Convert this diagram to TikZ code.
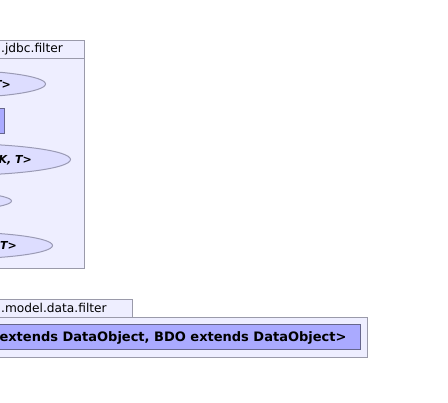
\documentclass[tikz,border=0pt]{standalone}
\usepackage{fontspec}
\setmainfont{DejaVu Sans}
\usetikzlibrary{shapes.geometric}

\definecolor{pkgfill}{HTML}{EEEEFF}
\definecolor{pkgline}{HTML}{9A9AAA}
\definecolor{tplfill}{HTML}{DDDDFF}
\definecolor{tplline}{HTML}{9A9AB4}
\definecolor{clsfill}{HTML}{AAAAFF}
\definecolor{clsline}{HTML}{66668C}

\begin{document}
\begin{tikzpicture}[x=1pt,y=-1pt]
        \tikzstyle{package}=[draw=pkgline, fill=pkgfill, line width=1pt]
        \tikzstyle{template}=[ellipse, draw=tplline, fill=tplfill, line width=1pt, inner sep=0pt]
        \tikzstyle{klass}=[rectangle, draw=clsline, fill=clsfill, line width=1pt, inner sep=0pt]
        \tikzstyle{pkglabel}=[anchor=west, inner sep=0pt, font=\fontsize{12.2}{14}\selectfont]
        \tikzstyle{tpllabel}=[anchor=east, inner sep=0pt, font=\fontsize{11}{13}\selectfont\bfseries\itshape]

        \useasboundingbox (0,0) rectangle (448,403);
        \clip (0,0) rectangle (448,403);

        % upper package
        \node[package, draw, rectangle, anchor=north east, minimum width=120pt, minimum height=18pt] (jdbcTab) at (85,40) {};
        \node[package, draw, rectangle, anchor=north east, minimum width=120pt, minimum height=210pt] (jdbcBody) at (85,58) {};
        \node[pkglabel] (jdbcName) at (1,49) {.jdbc.filter};

        % templates in the upper package
        \foreach \name / \x / \y / \w / \h in {tplA/46/84/200/28, tplC/71/159.5/240/32, tplD/12/201/200/22, tplE/53/245.5/200/27}
            \node[template, minimum width=\w pt, minimum height=\h pt, anchor=east] (\name) at (\x,\y) {};

        \node[klass, minimum width=40pt, minimum height=25pt, anchor=east] (clsB) at (4.7,121.5) {};

        \node[tpllabel] (tplAName) at (11,84) {T>};
        \node[tpllabel] (tplCName) at (32,160) {K, T>};
        \node[tpllabel] (tplEName) at (17,245.5) {T>};

        % lower package
        \node[package, draw, rectangle, anchor=north east, minimum width=160pt, minimum height=18pt] (dataTab) at (133,299) {};
        \node[package, draw, rectangle, anchor=north east, minimum width=400pt, minimum height=40pt] (dataBody) at (368,317) {};
        \node[pkglabel] (dataName) at (1,308) {.model.data.filter};

        \node[klass, anchor=east, inner xsep=14pt, minimum height=25pt, font=\fontsize{13}{15}\selectfont\bfseries] (clsMain) at (361,337.5) {extends DataObject, BDO extends DataObject>};
\end{tikzpicture}
\end{document}
